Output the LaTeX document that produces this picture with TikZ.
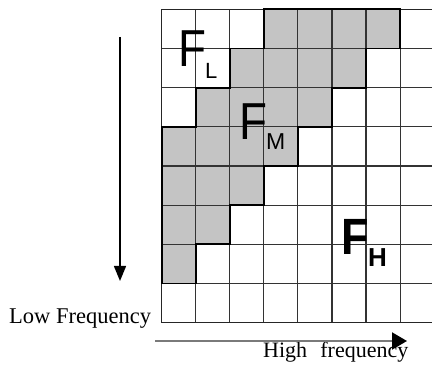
\documentclass[tikz,border=0pt]{standalone}
\usepackage{fontspec}
\setmainfont{Liberation Serif}
\newfontfamily\arialf{Liberation Sans}
\usetikzlibrary{arrows.meta}
\definecolor{cellgray}{HTML}{C4C4C4}
\definecolor{gridline}{HTML}{333333}
\definecolor{axisgray}{HTML}{7A7A7A}
\tikzset{
  thin grid/.style={draw=gridline,line width=1.1pt},
  region edge/.style={draw=black,line width=1.8pt,line join=miter},
  outer edge/.style={draw=black!85,line width=1.5pt},
  bigF/.style={font=\arialf\fontsize{52}{52}\selectfont,inner sep=0pt,anchor=base west,xscale=0.88},
  subL/.style={font=\arialf\fontsize{22}{22}\selectfont,inner sep=0pt,anchor=base west},
  axislabel/.style={font=\fontsize{22.5}{22.5}\selectfont,inner sep=0pt,anchor=base west}
}
\begin{document}
\begin{tikzpicture}[x=1pt,y=-1pt]
\useasboundingbox (0,0) rectangle (432,366);
% column and row positions
\def\cA{161.7}\def\cB{195.75}\def\cC{229.8}\def\cD{263.85}\def\cE{297.9}
\def\cF{331.95}\def\cG{366}\def\cH{400.05}
\def\rA{9.3}\def\rB{48.5}\def\rC{87.7}\def\rD{126.8}\def\rE{166}
\def\rF{205.2}\def\rG{244.3}\def\rH{283.5}\def\rI{322.7}
% gray region
\fill[cellgray] (\cD,\rA) -- (\cH,\rA) -- (\cH,\rB) -- (\cG,\rB) -- (\cG,\rC) -- (\cF,\rC) -- (\cF,\rD)
  -- (\cE,\rD) -- (\cE,\rE) -- (\cD,\rE) -- (\cD,\rF) -- (\cC,\rF) -- (\cC,\rG) -- (\cB,\rG)
  -- (\cB,\rH) -- (\cA,\rH) -- (\cA,\rD) -- (\cB,\rD) -- (\cB,\rC) -- (\cC,\rC) -- (\cC,\rB)
  -- (\cD,\rB) -- cycle;
% thin grid
\foreach \x in {\cB,\cC,\cD,\cE,\cF,\cG,\cH} \draw[thin grid] (\x,\rA) -- (\x,\rI);
\foreach \y in {\rB,\rC,\rD,\rE,\rF,\rG,\rH} \draw[thin grid] (\cA,\y) -- (432,\y);
% outer edges
\draw[outer edge] (432,\rA) -- (\cA,\rA) -- (\cA,\rI) -- (432,\rI);
% region outline
\draw[region edge] (\cD,\rA) -- (\cH,\rA) -- (\cH,\rB) -- (\cG,\rB) -- (\cG,\rC) -- (\cF,\rC) -- (\cF,\rD)
  -- (\cE,\rD) -- (\cE,\rE) -- (\cD,\rE) -- (\cD,\rF) -- (\cC,\rF) -- (\cC,\rG) -- (\cB,\rG)
  -- (\cB,\rH) -- (\cA,\rH) -- (\cA,\rD) -- (\cB,\rD) -- (\cB,\rC) -- (\cC,\rC) -- (\cC,\rB)
  -- (\cD,\rB) -- cycle;
% labels
\node[bigF] (FL) at (178,67) {F};
\node[subL] (L) at (205,79) {L};
\node[bigF] (FM) at (239,140) {F};
\node[subL,font=\arialf\fontsize{23}{23}\selectfont] (M) at (266,150) {M};
\node[bigF,font=\arialf\bfseries\fontsize{51}{51}\selectfont] (FH) at (341,255) {F};
\node[subL,font=\arialf\bfseries\fontsize{26}{26}\selectfont] (H) at (368,267) {H};
\node[axislabel] (low) at (9,324) {Low Frequency};
\node[axislabel,font=\fontsize{22}{22}\selectfont] (high) at (263,358) {High\hspace{0.6em}frequency};
% arrows
\coordinate (vs) at (120,37);
\coordinate (ve) at (120,281);
\coordinate (hs) at (155,341);
\coordinate (he) at (407,341);
\draw[black,line width=1.4pt,-{Triangle[length=15pt,width=12pt]}] (vs) -- (ve);
\draw[axisgray,line width=2pt,-{Triangle[length=15pt,width=17pt,color=black]}] (hs) -- (he);
\end{tikzpicture}
\end{document}
